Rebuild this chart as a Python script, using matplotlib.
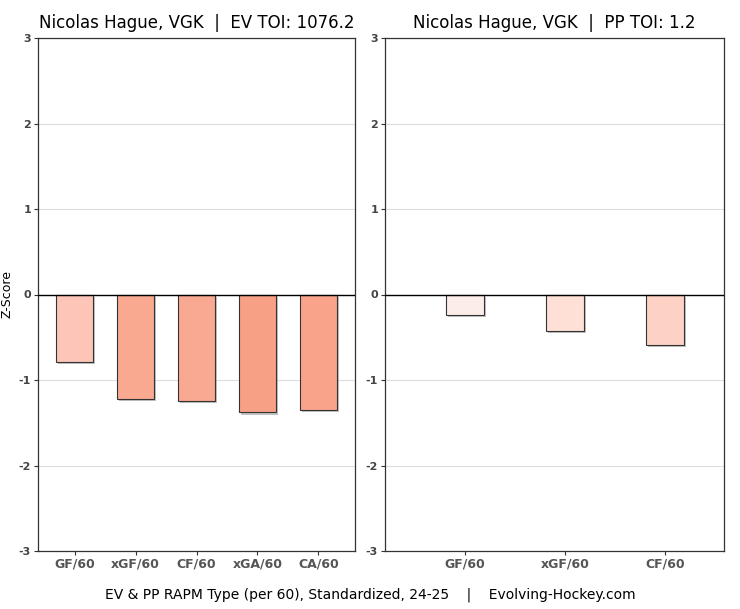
import matplotlib
matplotlib.use("Agg")
import matplotlib.pyplot as plt
import matplotlib.patheffects as pe

player = "Nicolas Hague, VGK"
ev_toi = 1076.2
pp_toi = 1.2

ev_labels = ["GF/60", "xGF/60", "CF/60", "xGA/60", "CA/60"]
ev_values = [-0.79, -1.22, -1.25, -1.38, -1.35]
ev_colors = ["#fdc5b8", "#f9a990", "#f9a891", "#f7a086", "#f8a38a"]

pp_labels = ["GF/60", "xGF/60", "CF/60"]
pp_values = [-0.24, -0.43, -0.59]
pp_colors = ["#fdede8", "#fee0d7", "#fdd2c5"]

fig = plt.figure(figsize=(7.4, 6.09), dpi=100)
ax1 = fig.add_axes([38 / 740, 1 - 551 / 609, 317 / 740, 513 / 609])
ax2 = fig.add_axes([385 / 740, 1 - 551 / 609, 339 / 740, 513 / 609])

shadow = [pe.SimplePatchShadow(offset=(1.5, -1.5), shadow_rgbFace="#999999", alpha=0.6), pe.Normal()]


def draw(ax, labels, values, colors, width, xlim, title):
    x = list(range(len(labels)))
    bars = ax.bar(x, values, width=width, color=colors, edgecolor="#333333", linewidth=0.8, zorder=3)
    for b in bars:
        b.set_path_effects(shadow)
    ax.axhline(0, color="black", linewidth=1, zorder=4)
    ax.set_ylim(-3, 3)
    ax.set_xlim(*xlim)
    ax.set_yticks([-3, -2, -1, 0, 1, 2, 3])
    ax.set_yticklabels(["-3", "-2", "-1", "0", "1", "2", "3"], fontsize=8, fontweight="bold", color="#444444")
    ax.set_xticks(x)
    ax.set_xticklabels(labels, fontsize=9, fontweight="bold", color="#555555")
    ax.grid(axis="y", color="#dddddd", linewidth=0.8, zorder=0)
    ax.tick_params(axis="both", length=3, pad=2, color="#333333")
    for s in ax.spines.values():
        s.set_color("#333333")
        s.set_linewidth(0.9)
    ax.set_title(title, fontsize=12, pad=7)


draw(ax1, ev_labels, ev_values, ev_colors, 0.6, (-0.6, 4.6),
     f"{player}  |  EV TOI: {ev_toi}")
draw(ax2, pp_labels, pp_values, pp_colors, 0.38, (-0.8, 2.59),
     f"{player}  |  PP TOI: {pp_toi}")

ax1.set_ylabel("Z-Score", fontsize=9)
ax1.yaxis.set_label_coords(-0.078, 0.5)

fig.text(0.5, 1 - 595 / 609, "EV & PP RAPM Type (per 60), Standardized, 24-25    |    Evolving-Hockey.com",
         ha="center", va="center", fontsize=10)

fig.savefig("out.png", dpi=100)
